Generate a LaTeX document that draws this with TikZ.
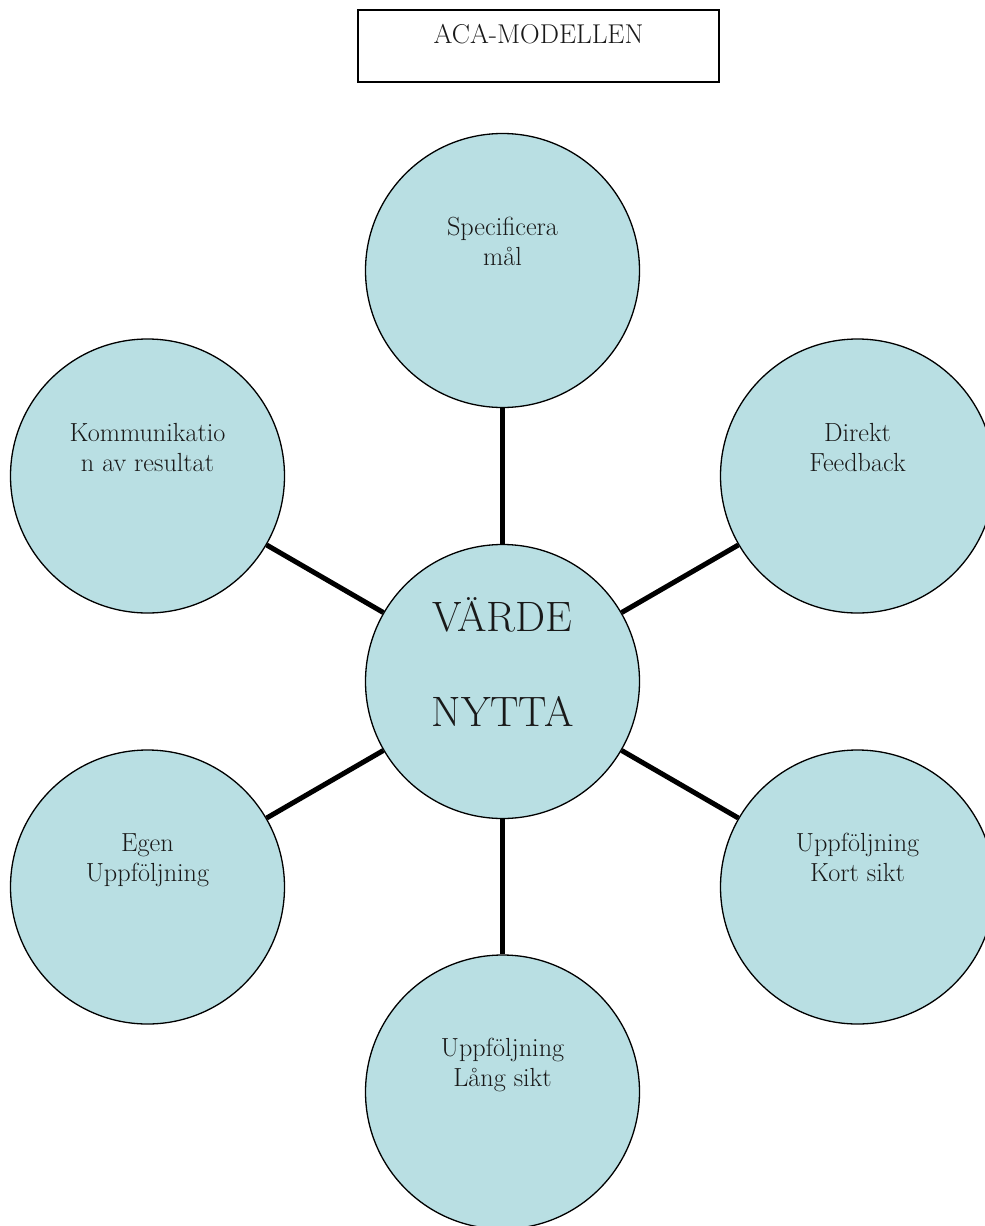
\documentclass[tikz,border=0pt]{standalone}
\usepackage{fontspec}
\usetikzlibrary{backgrounds}
\definecolor{bubfill}{HTML}{B9DFE3}
\begin{document}
\begin{tikzpicture}[x=1pt,y=-1pt,
  bub/.style={circle,draw=black,line width=1.3pt,fill=bubfill,minimum size=274pt,inner sep=0pt},
  lbl/.style={anchor=base,inner sep=0pt,font=\fontsize{26.2}{30}\selectfont,text=black!90},
  big/.style={anchor=base,inner sep=0pt,font=\fontsize{42.5}{48}\selectfont,text=black!90},
  link/.style={line width=5pt}]
\clip (0,0) rectangle (985,1226);
% title
\node[draw,line width=1.8pt,minimum width=361pt,minimum height=72pt,inner sep=0pt] (title) at (538.5,46) {};
\node[anchor=base,inner sep=0pt,font=\fontsize{27.2}{30}\selectfont,text=black!90] (titletext) at (538.5,43) {ACA-MODELLEN};
% circles
\node[bub] (mid) at (502.5,681.5) {};
\node[bub] (top) at (502.5,270.5) {};
\node[bub] (rtop) at (857.5,476) {};
\node[bub] (ltop) at (147.5,476) {};
\node[bub] (rbot) at (857.5,887) {};
\node[bub] (lbot) at (147.5,887) {};
\node[bub] (bot) at (502.5,1092) {};
% connectors
\begin{pgfonlayer}{background}
\draw[link] (mid) -- (top);
\draw[link] (mid) -- (rtop);
\draw[link] (mid) -- (ltop);
\draw[link] (mid) -- (rbot);
\draw[link] (mid) -- (lbot);
\draw[link] (mid) -- (bot);
\end{pgfonlayer}
% labels
\node[big] (mid1) at (502.5,631) {VÄRDE};
\node[big] (mid2) at (502.5,726) {NYTTA};
\node[lbl] (top1) at (502.5,235.5) {Specificera};
\node[lbl] (top2) at (502.5,265.5) {mål};
\node[lbl] (rtop1) at (857.5,441) {Direkt};
\node[lbl] (rtop2) at (857.5,471.5) {Feedback};
\node[lbl] (ltop1) at (147.5,441) {Kommunikatio};
\node[lbl] (ltop2) at (147.5,471.5) {n av resultat};
\node[lbl] (rbot1) at (857.5,851) {Uppföljning};
\node[lbl] (rbot2) at (857.5,881.5) {Kort sikt};
\node[lbl] (lbot1) at (147.5,851) {Egen};
\node[lbl] (lbot2) at (147.5,881) {Uppföljning};
\node[lbl] (bot1) at (502.5,1056.5) {Uppföljning};
\node[lbl] (bot2) at (502.5,1086.5) {Lång sikt};
\end{tikzpicture}
\end{document}
